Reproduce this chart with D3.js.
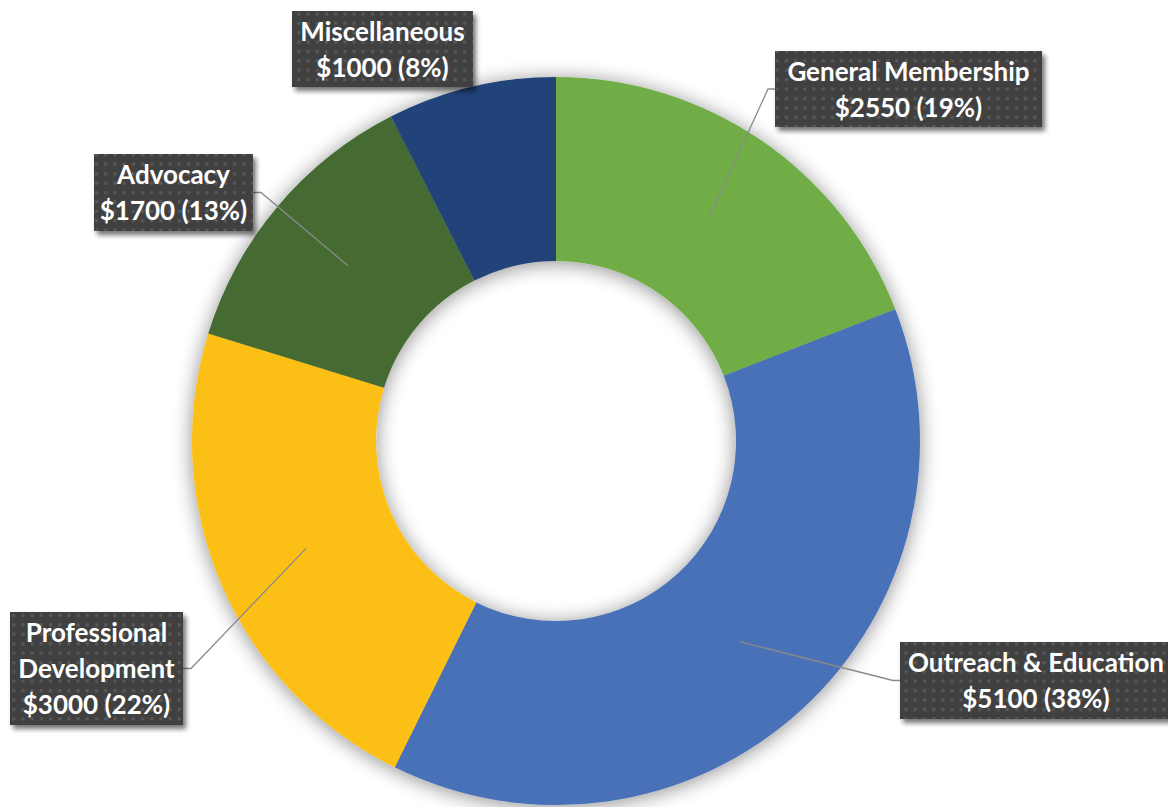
<!DOCTYPE html>
<html>
<head>
    <style>
        body { margin: 0; background: #fff; }
        .lbl { font-family: Lato, "Open Sans", sans-serif; font-weight: bold; fill: #fff; }
        .leader { fill: none; stroke: #8a8a8a; stroke-width: 1.3; }
    </style>
    <script src="https://d3js.org/d3.v7.min.js"></script>
    <title>Budget Donut</title>
</head>
<body>
    <svg width="1168" height="807"></svg>
    <script>
        // chart data
        var categories = ["General Membership", "Outreach & Education", "Professional Development", "Advocacy", "Miscellaneous"];
        var amounts = [2550, 5100, 3000, 1700, 1000];
        var percents = ["19%", "38%", "22%", "13%", "8%"];
        var labelLines = [["General Membership"], ["Outreach & Education"], ["Professional", "Development"], ["Advocacy"], ["Miscellaneous"]];
        var colors = ["#71ad46", "#4871b8", "#fcbf12", "#446a33", "#22427a"];

        // label box layout (x, y, w, h, which side the leader attaches)
        var boxes = [
            { x: 775, y: 51, w: 267, h: 76, side: "left", leader: true },
            { x: 900, y: 642, w: 272, h: 77, side: "left", leader: true },
            { x: 10, y: 612, w: 173, h: 113, side: "right", leader: true },
            { x: 94, y: 154, w: 159, h: 77, side: "right", leader: true },
            { x: 292, y: 11, w: 181, h: 76, side: "none", leader: false }
        ];

        var svg = d3.select("svg"),
            cx = 556, cy = 441,
            outerR = 364, innerR = 180;

        var defs = svg.append("defs");

        // soft shadow round the ring
        var f = defs.append("filter").attr("id", "ringShadow")
            .attr("x", "-20%").attr("y", "-20%").attr("width", "140%").attr("height", "140%");
        f.append("feGaussianBlur").attr("in", "SourceAlpha").attr("stdDeviation", 10).attr("result", "b");
        f.append("feOffset").attr("in", "b").attr("dx", 0).attr("dy", 2).attr("result", "o");
        f.append("feComponentTransfer").attr("in", "o").attr("result", "s")
            .append("feFuncA").attr("type", "linear").attr("slope", 0.45);
        var m = f.append("feMerge");
        m.append("feMergeNode").attr("in", "s");
        m.append("feMergeNode").attr("in", "SourceGraphic");

        // box shadow
        var bf = defs.append("filter").attr("id", "boxShadow")
            .attr("x", "-10%").attr("y", "-10%").attr("width", "130%").attr("height", "140%");
        bf.append("feGaussianBlur").attr("in", "SourceAlpha").attr("stdDeviation", 2.5).attr("result", "b");
        bf.append("feOffset").attr("in", "b").attr("dx", 3).attr("dy", 4).attr("result", "o");
        bf.append("feComponentTransfer").attr("in", "o").attr("result", "s")
            .append("feFuncA").attr("type", "linear").attr("slope", 0.55);
        var bm = bf.append("feMerge");
        bm.append("feMergeNode").attr("in", "s");
        bm.append("feMergeNode").attr("in", "SourceGraphic");

        // dotted fill for the label boxes
        var pat = defs.append("pattern").attr("id", "dots")
            .attr("patternUnits", "userSpaceOnUse").attr("width", 9.2).attr("height", 9.4);
        pat.append("rect").attr("width", 9.2).attr("height", 9.4).attr("fill", "#404040");
        pat.append("rect").attr("x", 3).attr("y", 3).attr("width", 3).attr("height", 3).attr("fill", "#5a5a5a");

        var data = categories.map(function (c, i) {
            return { name: c, value: amounts[i], pct: percents[i], lines: labelLines[i], color: colors[i], box: boxes[i] };
        });

        var pie = d3.pie().sort(null).value(function (d) { return d.value; });
        var arc = d3.arc().innerRadius(innerR).outerRadius(outerR);
        var arcs = pie(data);

        var ring = svg.append("g")
            .attr("transform", "translate(" + cx + "," + cy + ")")
            .attr("filter", "url(#ringShadow)");

        ring.selectAll("path")
            .data(arcs)
            .enter()
            .append("path")
            .attr("d", arc)
            .attr("fill", function (d) { return d.data.color; });

        // leader lines: slice centroid -> elbow -> box edge
        svg.selectAll(".leader")
            .data(arcs.filter(function (d) { return d.data.box.leader; }))
            .enter()
            .append("polyline")
            .attr("class", "leader")
            .attr("points", function (d) {
                var c = arc.centroid(d), b = d.data.box;
                var ex = b.side === "left" ? b.x : b.x + b.w;
                var ey = b.y + b.h / 2;
                var kx = b.side === "left" ? ex - 7 : ex + 8;
                return [[c[0] + cx, c[1] + cy], [kx, ey], [ex, ey]].join(" ");
            });

        // label boxes
        var lab = svg.selectAll(".lab")
            .data(data)
            .enter()
            .append("g")
            .attr("class", "lab");

        lab.append("rect")
            .attr("x", function (d) { return d.box.x; })
            .attr("y", function (d) { return d.box.y; })
            .attr("width", function (d) { return d.box.w; })
            .attr("height", function (d) { return d.box.h; })
            .attr("fill", "url(#dots)")
            .attr("filter", "url(#boxShadow)");

        lab.each(function (d) {
            var g = d3.select(this);
            var lines = d.lines.concat(["$" + d.value + " (" + d.pct + ")"]);
            var midX = d.box.x + d.box.w / 2;
            lines.forEach(function (t, k) {
                g.append("text")
                    .attr("class", "lbl")
                    .attr("x", midX)
                    .attr("y", d.box.y + 30 + k * 36)
                    .attr("text-anchor", "middle")
                    .attr("font-size", "26px")
                    .text(t);
            });
        });
    </script>
</body>
</html>
